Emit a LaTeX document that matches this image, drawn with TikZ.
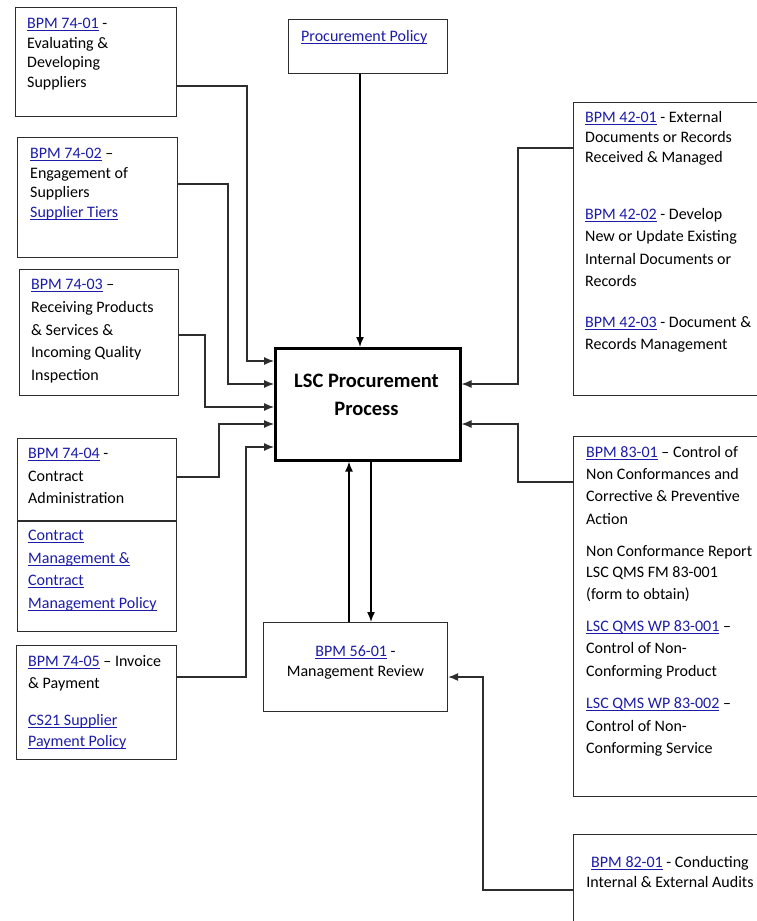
\documentclass[tikz,border=0pt]{standalone}
\usepackage{fontspec}
\setmainfont{Carlito}
\usepackage{xcolor}
\usetikzlibrary{arrows.meta}
\definecolor{linkblue}{RGB}{28,28,168}
\definecolor{boxline}{RGB}{45,45,45}
\newsavebox{\lnkbox}
\newcommand{\lnk}[1]{{\color{linkblue}\sbox{\lnkbox}{#1}\rlap{\rule[-2.3pt]{\wd\lnkbox}{0.8pt}}\usebox{\lnkbox}}}

\begin{document}
\begin{tikzpicture}[x=1pt, y=-1pt,
  >={Latex[length=10pt,width=8pt]},
  box/.style={draw=boxline, line width=1.1pt, anchor=north west, inner sep=0pt},
  txt/.style={anchor=north west, align=left, inner sep=0pt},
  conn/.style={->, line width=1.1pt, draw=boxline},
  bigconn/.style={->, line width=1.5pt}]
  % Page
  \useasboundingbox (0,0) rectangle (757,921);
  \clip (0,0) rectangle (757,921);

  % Central process
  \node[box, draw=black, line width=2.6pt, minimum width=185pt, minimum height=112pt] (proc) at (274,347) {};
  \node[font=\fontsize{20.5}{28}\selectfont\bfseries, align=center] (proctxt) at (366.5,395) {LSC Procurement\\Process};

  % Policy box
  \node[box, minimum width=159pt, minimum height=54pt] (pol) at (288,19) {};
  \node[txt, font=\fontsize{16}{20}\selectfont] (poltxt) at (301,30) {\lnk{Procurement Policy}};

  % Left boxes (BPM 74-xx)
  \node[box, minimum width=161pt, minimum height=109pt] (b7401) at (15,7) {};
  \node[txt, font=\fontsize{16}{19.7}\selectfont] (t7401) at (27,18) {\lnk{BPM 74-01} -\\Evaluating \&\\Developing\\Suppliers};

  \node[box, minimum width=160pt, minimum height=120pt] (b7402) at (17,137) {};
  \node[txt, font=\fontsize{16}{19.5}\selectfont] (t7402) at (30,148) {\lnk{BPM 74-02} --\\Engagement of\\Suppliers\\\lnk{Supplier Tiers}};

  \node[box, minimum width=159pt, minimum height=126pt] (b7403) at (19,269) {};
  \node[txt, font=\fontsize{16}{22.8}\selectfont] (t7403) at (31,279) {\lnk{BPM 74-03} --\\Receiving Products\\\& Services \&\\Incoming Quality\\Inspection};

  \node[box, minimum width=159pt, minimum height=193pt] (b7404) at (17,438) {};
  \draw[draw=boxline, line width=1.1pt] (b7404.west |- 0,521) -- (b7404.east |- 0,521);
  \node[txt, font=\fontsize{16}{22.5}\selectfont] (t7404) at (28,448) {\lnk{BPM 74-04} -\\Contract\\Administration\\[14.5pt]\lnk{Contract}\\\lnk{Management \&}\\\lnk{Contract}\\\lnk{Management Policy}};

  \node[box, minimum width=160pt, minimum height=114pt] (b7405) at (16,645) {};
  \node[txt, font=\fontsize{16}{22.5}\selectfont] (t7405) at (28,655) {\lnk{BPM 74-05} -- Invoice\\\& Payment\\[14pt]\lnk{CS21 Supplier}\\[-1.5pt]\lnk{Payment Policy}};

  % Right boxes
  \node[box, minimum width=200pt, minimum height=293pt] (b42) at (573,102) {};
  \node[txt, font=\fontsize{16}{22.5}\selectfont] (t42) at (585,111) {\lnk{BPM 42-01} - External\\[-2.5pt]Documents or Records\\[-2.5pt]Received \& Managed\\[34.5pt]\lnk{BPM 42-02} - Develop\\New or Update Existing\\Internal Documents or\\Records\\[18pt]\lnk{BPM 42-03} - Document \&\\Records Management};

  \node[box, minimum width=200pt, minimum height=360pt] (b83) at (573,436) {};
  \node[txt, font=\fontsize{16}{22.3}\selectfont] (t83) at (586,446) {\lnk{BPM 83-01} -- Control of\\Non Conformances and\\Corrective \& Preventive\\Action\\[10pt]Non Conformance Report\\[-1pt]LSC QMS FM 83-001\\[-1pt](form to obtain)\\[10pt]\lnk{LSC QMS WP 83-001} --\\Control of Non-\\Conforming Product\\[10.5pt]\lnk{LSC QMS WP 83-002} --\\Control of Non-\\Conforming Service};

  \node[box, minimum width=200pt, minimum height=120pt] (b82) at (573,834) {};
  \node[font=\fontsize{16}{20}\selectfont, align=center] (t82) at (670,872) {\lnk{BPM 82-01} - Conducting\\Internal \& External Audits};

  % Management review
  \node[box, minimum width=184pt, minimum height=89pt] (mr) at (263,622) {};
  \node[font=\fontsize{16}{19.5}\selectfont, align=center] (mrtxt) at (355.5,662.5) {\lnk{BPM 56-01} -\\Management Review};

  % Inputs from the left
  \draw[conn] (b7401.east |- 0,86) -| (247,361) -- (proc.west |- 0,361);
  \draw[conn] (b7402.east |- 0,184) -| (228,384) -- (proc.west |- 0,384);
  \draw[conn] (b7403.east |- 0,335) -| (205,407) -- (proc.west |- 0,407);
  \draw[conn] (b7404.east |- 0,477) -| (219,424) -- (proc.west |- 0,424);
  \draw[conn] (b7405.east |- 0,677) -| (246,447) -- (proc.west |- 0,447);

  % Inputs from the right
  \draw[conn] (b42.west |- 0,148) -| (518,384) -- (proc.east |- 0,384);
  \draw[conn] (b83.west |- 0,482) -| (518,424) -- (proc.east |- 0,424);
  \draw[conn, line width=1.3pt] (b82.west |- 0,890) -| (483,677) -- (mr.east |- 0,677);

  % Policy and review loop
  \draw[bigconn] (pol.south -| 360,0) -- (proc.north -| 360,0);
  \draw[bigconn] (mr.north -| 349,0) -- (proc.south -| 349,0);
  \draw[bigconn] (proc.south -| 371,0) -- (mr.north -| 371,0);
\end{tikzpicture}
\end{document}
